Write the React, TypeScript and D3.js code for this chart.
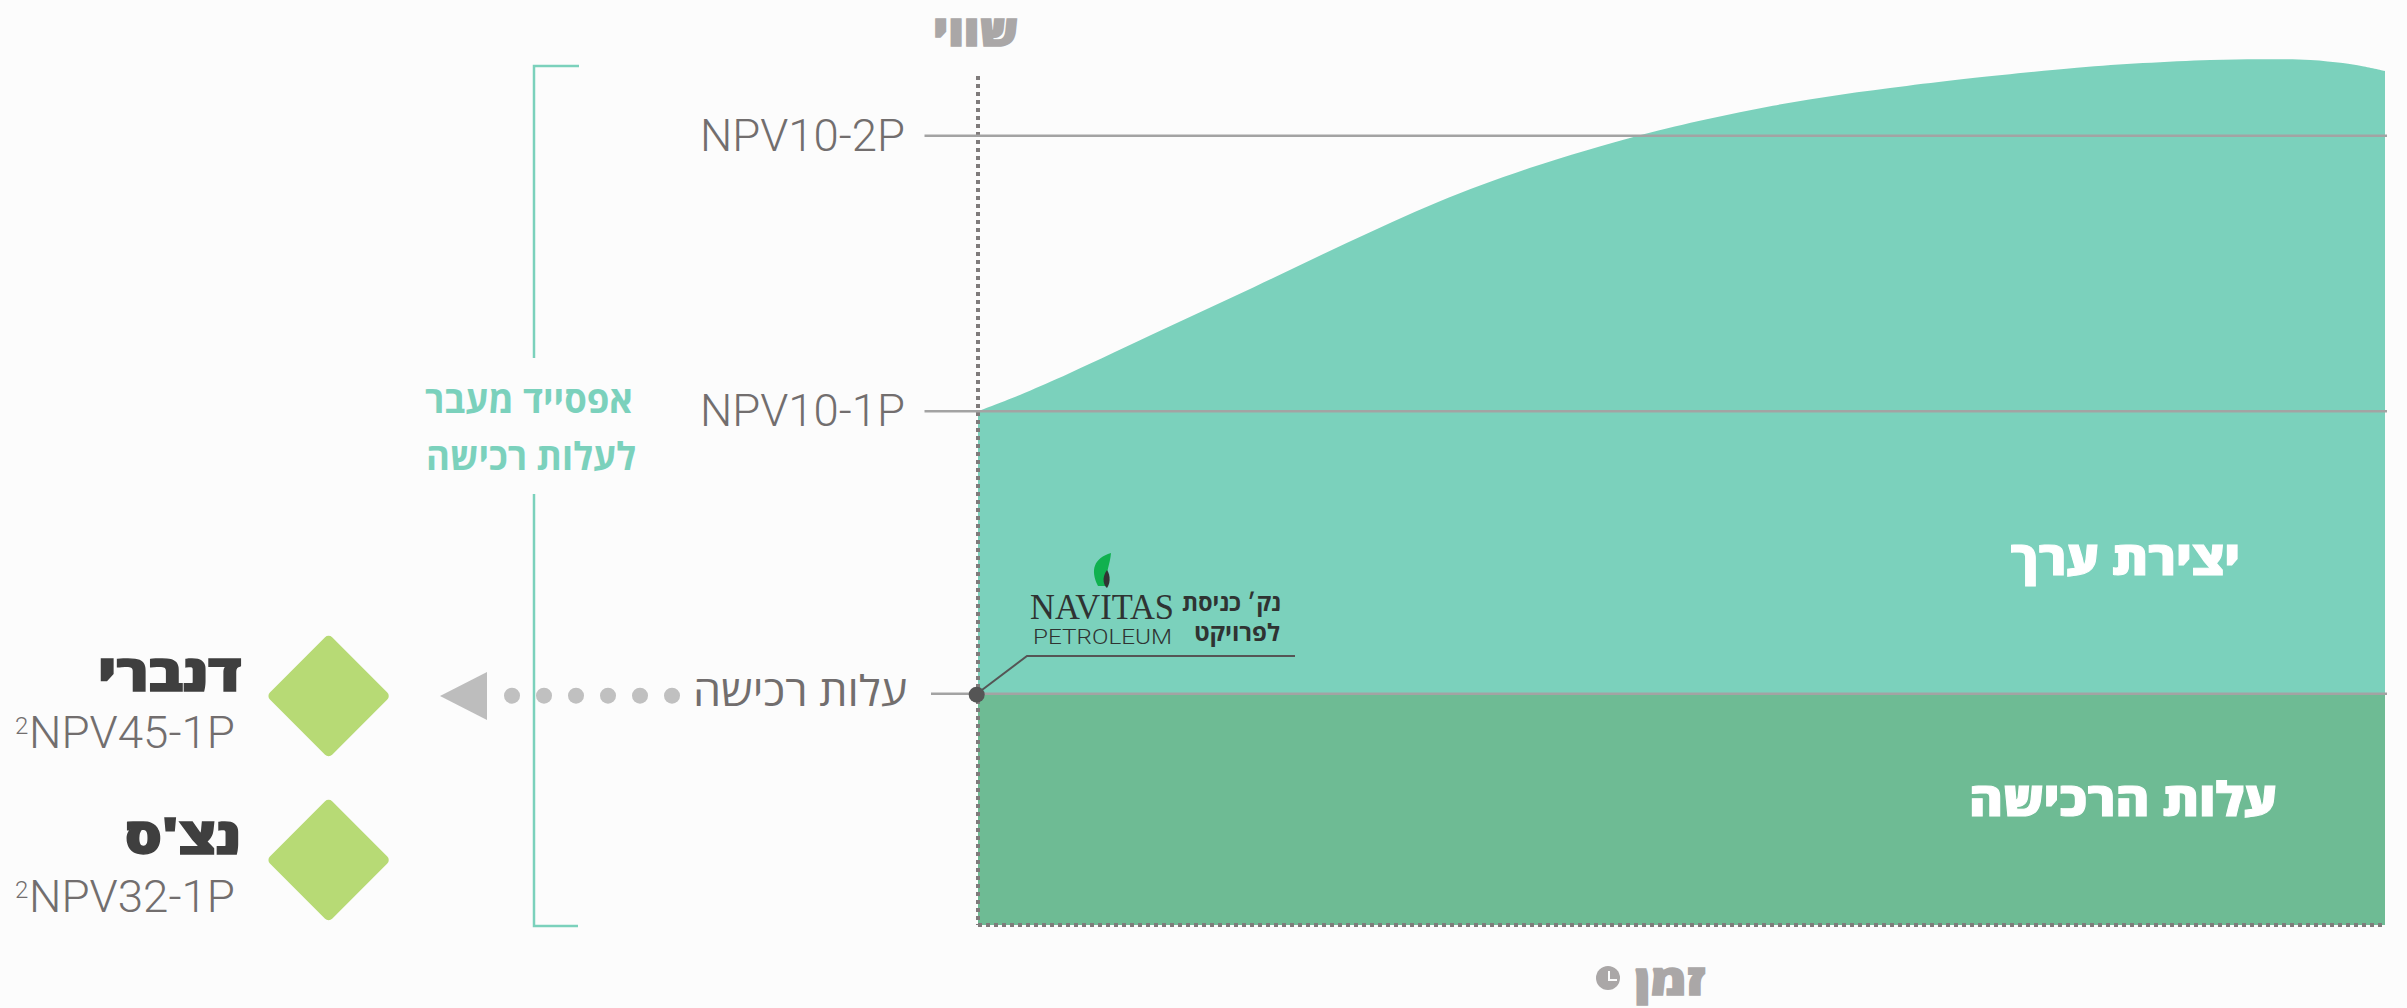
import React from 'react';
import * as d3 from 'd3';

const W = 2407, H = 1008;
const TEAL = '#7bd1bc', GREEN = '#6ebb94', GRID = '#a3a3a3', TXT = '#726e6e', DARK = '#3f3f3f', AXIS = '#aaa7a7';
const HEB = '"Open Sans", "Liberation Sans", sans-serif';

// time runs 0-100 along the bottom, worth is indexed so that NPV10-2P = 100
const levelNames = ['NPV10-2P', 'NPV10-1P', 'עלות רכישה'];
const levelValues = [100, 65.1, 29.3];
const curveTime = [0, 3.3, 6.5, 13.1, 19.6, 26.2, 32.7, 39.2, 47.1, 51.8, 56.5, 61.3, 66, 70.7, 78.1, 82.8, 87.6, 91.1, 94.7, 97, 98.4, 100];
const curveWorth = [65.1, 67.4, 69.9, 75.4, 80.8, 86.4, 91.6, 95.9, 100.1, 102.1, 103.8, 105.2, 106.3, 107.3, 108.6, 109.2, 109.6, 109.7, 109.6, 109.2, 108.8, 108.2];
const peers = ['דנברי', 'נצ\u0027ס'];
const peerValues = ['NPV45-1P', 'NPV32-1P'];
const arrowDots = [0, 1, 2, 3, 4, 5];

const x = d3.scaleLinear().domain([0, 100]).range([978, 2385]);
const y = d3.scaleLinear().domain([0, 100]).range([925, 135.7]);

export default function App() {
  const area = d3.area<number>()
    .x((_, i) => x(curveTime[i]))
    .y0(y(levelValues[2]))
    .y1(d => y(d))
    .curve(d3.curveCatmullRom)(curveWorth) as string;

  const fit = { lengthAdjust: 'spacingAndGlyphs' };

  return (
    <svg width={W} height={H} viewBox={`0 0 ${W} ${H}`} style={{ position: 'absolute', left: 0, top: 0, background: '#fcfcfc' }}>
      <path d={area} fill={TEAL} />
      <rect x={x(0)} y={y(levelValues[2])} width={x(100) - x(0)} height={y(0) - y(levelValues[2])} fill={GREEN} />

      <line x1={x(0)} x2={x(0)} y1={76} y2={y(0)} stroke="#7f7b7b" strokeWidth={4} strokeDasharray="4 4" />
      <line x1={x(0)} x2={x(100)} y1={y(0)} y2={y(0)} stroke="#7f7b7b" strokeWidth={4} strokeDasharray="4 4" />

      {levelValues.map((v, i) => (
        <line key={i} x1={i === 2 ? 931 : 924.5} x2={2387} y1={y(v)} y2={y(v)} stroke={GRID} strokeWidth={2.5} />
      ))}
      {levelNames.map((n, i) => (
        <text key={n} x={i === 2 ? 907 : 905} y={y(levelValues[i]) + (i === 2 ? 12 : 15)} textAnchor="end" fontFamily={i === 2 ? HEB : 'Roboto'} fontWeight={i === 2 ? 400 : 300} fontSize={i === 2 ? 42 : 44}
          fill={TXT} textLength={i === 2 ? 214 : 205} {...fit}>{n}</text>
      ))}

      <text x={1018} y={46} textAnchor="end" fontFamily={HEB} fontWeight={800} fontSize={42} fill={AXIS} stroke={AXIS} strokeWidth={1.5} textLength={85} {...fit}>שווי</text>
      <text x={1705} y={995} textAnchor="end" fontFamily={HEB} fontWeight={800} fontSize={42} fill={AXIS} stroke={AXIS} strokeWidth={1.5} textLength={70} {...fit}>זמן</text>
      <circle cx={1608} cy={978} r={12} fill={AXIS} />
      <path d="M1609 971V980H1617" fill="none" stroke="#fcfcfc" strokeWidth={2} />

      <text x={2240} y={575} textAnchor="end" fontFamily={HEB} fontWeight={800} fontSize={47} fill="#fff" stroke="#fff" strokeWidth={1} textLength={229} {...fit}>יצירת ערך</text>
      <text x={2277} y={816} textAnchor="end" fontFamily={HEB} fontWeight={800} fontSize={47} fill="#fff" stroke="#fff" strokeWidth={1} textLength={308} {...fit}>עלות הרכישה</text>

      <path d="M534 358V66H579" fill="none" stroke={TEAL} strokeWidth={2.5} />
      <path d="M534 494V926H578" fill="none" stroke={TEAL} strokeWidth={2.5} />
      <text x={633} y={413} textAnchor="end" fontFamily={HEB} fontWeight={700} fontSize={38} fill={TEAL} textLength={208} {...fit}>אפסייד מעבר</text>
      <text x={636} y={470} textAnchor="end" fontFamily={HEB} fontWeight={700} fontSize={38} fill={TEAL} textLength={210} {...fit}>לעלות רכישה</text>

      {arrowDots.map(i => <circle key={i} cx={512 + i * 32} cy={695.7} r={8} fill="#c0c0c0" />)}
      <path d="M440 696L487 672V720Z" fill="#bdbdbd" />

      {peers.map((p, i) => {
        const cy = i === 0 ? 696 : 860;
        return (
          <g key={p}>
            <rect x={328.6 - 44} y={cy - 44} width={88} height={88} rx={5} fill="#b7da75" transform={`rotate(45 328.6 ${cy})`} />
            <text x={241} y={i === 0 ? cy - 5 : cy - 6} textAnchor="end" fontFamily={HEB} fontWeight={800} fontSize={50} fill={DARK} stroke={DARK} strokeWidth={1.5} textLength={i === 0 ? 143 : 116} {...fit}>{p}</text>
            <text x={235} y={cy + 52} textAnchor="end" fontFamily="Roboto" fontWeight={300} fontSize={44} fill={TXT} textLength={206} {...fit}>{peerValues[i]}</text>
            <text x={15} y={cy + 38} fontFamily="Roboto" fontWeight={300} fontSize={24} fill={TXT}>2</text>
          </g>
        );
      })}

      <path d={`M${x(0) - 1} ${y(levelValues[2])}L1027 656H1295`} fill="none" stroke="#555" strokeWidth={2} />
      <circle cx={976.7} cy={694.7} r={8} fill="#555" />
      <text x={1102} y={619} textAnchor="middle" fontFamily="Liberation Serif" fontSize={35} fill="#2f3332" textLength={144} {...fit}>NAVITAS</text>
      <text x={1102.5} y={644} textAnchor="middle" fontFamily="Roboto" fontWeight={300} fontSize={20} fill="#2f3332" textLength={139} {...fit}>PETROLEUM</text>
      <path d="M1098 586C1090 570 1094 558 1111 553C1110 565 1106 570 1106 586Z" fill="#10b14f" />
      <path d="M1107 570C1101 578 1104 586 1107 588C1110 584 1111 576 1107 570Z" fill="#333" />
      <text x={1281} y={611} textAnchor="end" fontFamily={HEB} fontWeight={700} fontSize={24} fill="#2f3332" textLength={99} {...fit}>נק׳ כניסת</text>
      <text x={1280} y={641} textAnchor="end" fontFamily={HEB} fontWeight={700} fontSize={24} fill="#2f3332" textLength={86} {...fit}>לפרויקט</text>
    </svg>
  );
}
